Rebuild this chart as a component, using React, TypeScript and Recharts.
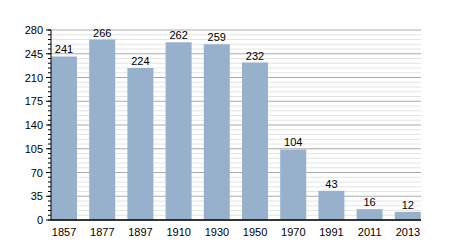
import { BarChart, Bar, XAxis, YAxis, CartesianGrid, LabelList } from 'recharts'

const years = ['1857', '1877', '1897', '1910', '1930', '1950', '1970', '1991', '2011', '2013']
const population = [241, 266, 224, 262, 259, 232, 104, 43, 16, 12]
// every 7 units; a labelled major tick every 35
const yTicks = [
  0, 7, 14, 21, 28, 35, 42, 49, 56, 63, 70, 77, 84, 91, 98, 105, 112, 119, 126, 133, 140,
  147, 154, 161, 168, 175, 182, 189, 196, 203, 210, 217, 224, 231, 238, 245, 252, 259, 266,
  273, 280,
]

const data = years.map((year, i) => ({ year, value: population[i] }))

const font = 'Liberation Sans, Arial, sans-serif'

const YTick = (props: any) => {
  const { x, y, payload } = props
  if (payload.value % 35 !== 0) return <g />
  return (
    <g>
      <line x1={x} x2={x + 5} y1={y} y2={y} stroke="#000" />
      <text x={x - 3} y={y} dy={4} textAnchor="end" fontSize={11} fontFamily={font} fill="#000">
        {payload.value}
      </text>
    </g>
  )
}

const GridLine = (props: any) => {
  const { x1, x2, y1, y2, index } = props
  const major = index % 5 === 0
  return (
    <line
      key={`g-${index}`}
      x1={x1}
      x2={x2}
      y1={y1}
      y2={y2}
      stroke={major ? '#aaaaaa' : '#e4e4e4'}
      strokeWidth={1}
    />
  )
}

export default function App() {
  return (
    <div style={{ position: 'absolute', left: 0, top: 0, width: 450, height: 250, background: '#fff' }}>
      <BarChart
        width={450}
        height={250}
        data={data}
        margin={{ top: 30, right: 29, bottom: 10, left: 11 }}
        barSize={26}
      >
        <CartesianGrid vertical={false} horizontal={GridLine} />
        <XAxis
          dataKey="year"
          tickLine={false}
          axisLine={{ stroke: '#000', strokeWidth: 1.5 }}
          tick={{ fontSize: 11, fill: '#000', fontFamily: font }}
          interval={0}
          height={20}
          tickMargin={2}
          padding={{ left: -6, right: -6 }}
        />
        <YAxis
          domain={[0, 280]}
          ticks={yTicks}
          interval={0}
          width={40}
          tickSize={3}
          tickMargin={2}
          axisLine={{ stroke: '#000' }}
          tickLine={{ stroke: '#000' }}
          tick={YTick}
        />
        <Bar dataKey="value" fill="#97b1cc" isAnimationActive={false}>
          <LabelList
            dataKey="value"
            position="top"
            offset={3}
            style={{ fontSize: 11, fill: '#000', fontFamily: font }}
          />
        </Bar>
      </BarChart>
    </div>
  )
}
